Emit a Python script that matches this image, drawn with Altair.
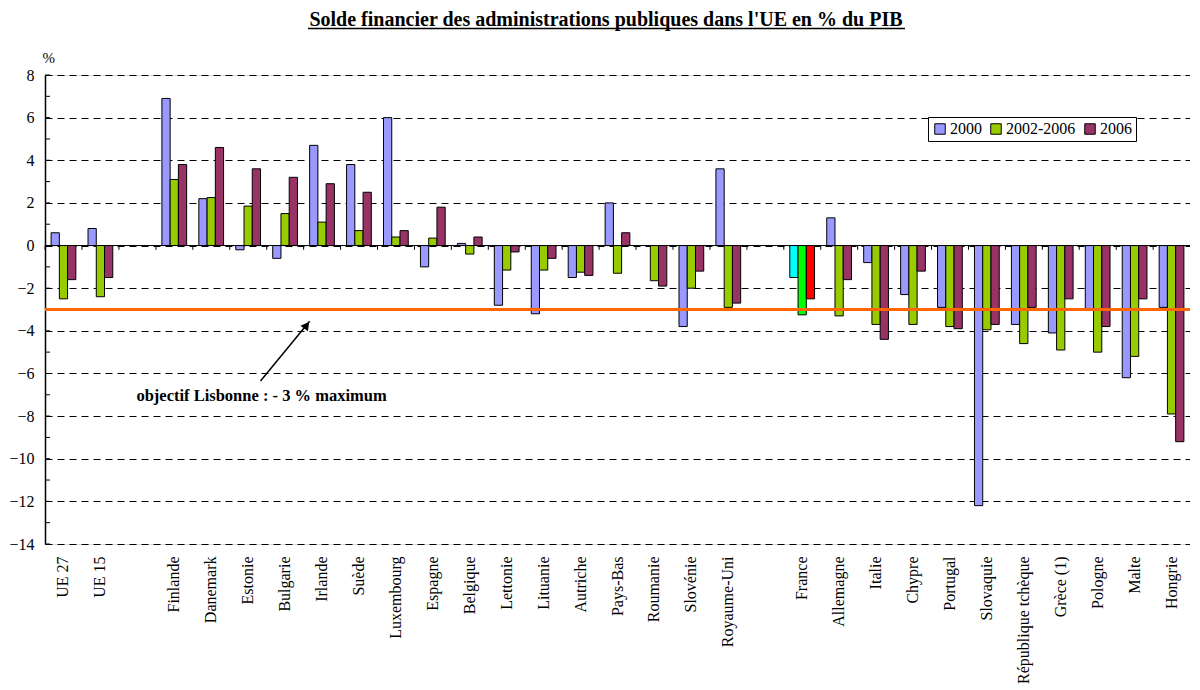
import altair as alt
import pandas as pd

pays = ["UE 27", "UE 15", "Finlande", "Danemark", "Estonie", "Bulgarie", "Irlande",
        "Suède", "Luxembourg", "Espagne", "Belgique", "Lettonie", "Lituanie", "Autriche",
        "Pays-Bas", "Roumanie", "Slovénie", "Royaume-Uni", "France", "Allemagne", "Italie",
        "Chypre", "Portugal", "Slovaquie", "République tchèque", "Grèce (1)", "Pologne",
        "Malte", "Hongrie"]
# category slots on the axis (blank slots separate groups)
slots = ["UE 27", "UE 15", " ", "Finlande", "Danemark", "Estonie", "Bulgarie", "Irlande",
         "Suède", "Luxembourg", "Espagne", "Belgique", "Lettonie", "Lituanie", "Autriche",
         "Pays-Bas", "Roumanie", "Slovénie", "Royaume-Uni", "  ", "France", "Allemagne",
         "Italie", "Chypre", "Portugal", "Slovaquie", "République tchèque", "Grèce (1)",
         "Pologne", "Malte", "Hongrie"]

v2000 = [0.6, 0.8, 6.9, 2.2, -0.2, -0.6, 4.7, 3.8, 6.0, -1.0, 0.1, -2.8, -3.2, -1.5, 2.0,
         None, -3.8, 3.6, -1.5, 1.3, -0.8, -2.3, -2.9, -12.2, -3.7, -4.1, -3.0, -6.2, -2.9]
v0206 = [-2.5, -2.4, 3.1, 2.25, 1.85, 1.5, 1.1, 0.7, 0.4, 0.35, -0.4, -1.15, -1.15, -1.25,
         -1.3, -1.65, -2.0, -2.9, -3.25, -3.3, -3.7, -3.7, -3.8, -3.95, -4.6, -4.9, -5.0,
         -5.2, -7.9]
v2006 = [-1.6, -1.5, 3.8, 4.6, 3.6, 3.2, 2.9, 2.5, 0.7, 1.8, 0.4, -0.3, -0.6, -1.4, 0.6,
         -1.9, -1.2, -2.7, -2.5, -1.6, -4.4, -1.2, -3.9, -3.7, -2.9, -2.5, -3.8, -2.5, -9.2]

series = ["2000", "2002-2006", "2006"]
series_colors = ["#9999FF", "#99CC00", "#993366"]
france_colors = ["#00FFFF", "#00FF00", "#FF0000"]

titre = "Solde financier des administrations publiques dans l'UE en % du PIB"
objectif = -3.0
y_ticks_major = list(range(-14, 9, 2))
y_ticks_minor = list(range(-14, 9))

FONT = "Liberation Serif"
W, H = 1145, 469

rows = []
for i, p in enumerate(pays):
    for s, vals in zip(series, [v2000, v0206, v2006]):
        v = vals[i]
        if v is None:
            continue
        key = ("F " + s) if p == "France" else s
        rows.append({"pays": p, "serie": s, "valeur": v, "ckey": key})
df = pd.DataFrame(rows)

xscale = alt.Scale(domain=slots, paddingInner=0.33, paddingOuter=0.165)
yscale = alt.Scale(domain=[-14, 8], nice=False, zero=False)

bars = alt.Chart(df).mark_bar(stroke="black", strokeWidth=1).encode(
    x=alt.X("pays:N", scale=xscale, sort=slots, title=None,
            axis=alt.Axis(labelAngle=-90, labelAlign="right", labelBaseline="middle",
                          labelFont=FONT, labelFontSize=16, labelColor="black",
                          labelPadding=12, domain=False, ticks=False, grid=False)),
    xOffset=alt.XOffset("serie:N", scale=alt.Scale(domain=series, paddingInner=0, paddingOuter=0)),
    y=alt.Y("valeur:Q", scale=yscale, title="%",
            axis=alt.Axis(values=y_ticks_major, grid=True, gridDash=[7, 5], gridColor="black",
                          gridWidth=1, gridOpacity=1, ticks=False, domain=True,
                          domainColor="black", domainWidth=1.5,
                          labelFont=FONT, labelFontSize=16, labelColor="black", labelPadding=11,
                          titleAngle=0, titleFont=FONT, titleFontSize=15, titleFontWeight="normal",
                          titleColor="black", titleAlign="left", titleBaseline="bottom",
                          titleX=-3, titleY=-10)),
    color=alt.Color("ckey:N",
                    scale=alt.Scale(domain=series + ["F " + s for s in series],
                                    range=series_colors + france_colors),
                    legend=alt.Legend(values=series, title=None, orient="none",
                                      legendX=883, legendY=42, direction="horizontal",
                                      columns=3, fillColor="white", strokeColor="black",
                                      padding=4, symbolType="square", symbolSize=110,
                                      symbolStrokeColor="black", symbolStrokeWidth=1,
                                      symbolOpacity=1,
                                      labelFont=FONT, labelFontSize=16, labelColor="black",
                                      labelOffset=2, columnPadding=6)),
)

# zero line with its tick marks at category boundaries
zero_df = pd.DataFrame({"z": [0.0]})
zero_line = alt.Chart(zero_df).mark_rule(color="black", strokeWidth=1).encode(
    y=alt.Y("z:Q", scale=yscale))
ticks_df = pd.DataFrame({"slot": slots, "a": [0.0] * len(slots), "b": [-0.2] * len(slots)})
zero_ticks = alt.Chart(ticks_df).mark_rule(color="black", strokeWidth=1, xOffset=-6).encode(
    x=alt.X("slot:N", scale=xscale, sort=slots, bandPosition=0, title=None),
    y=alt.Y("a:Q", scale=yscale),
    y2="b:Q",
)

# inner ticks of the value axis
minor_df = pd.DataFrame({"t": y_ticks_minor})
minor = alt.Chart(minor_df).mark_rule(color="black", strokeWidth=1).encode(
    y=alt.Y("t:Q", scale=yscale), x=alt.value(0), x2=alt.value(5))

# objective line
obj_df = pd.DataFrame({"o": [objectif]})
obj = alt.Chart(obj_df).mark_rule(color="#FF6600", strokeWidth=3).encode(
    y=alt.Y("o:Q", scale=yscale))

# annotation
ann_df = pd.DataFrame({"x_from": ["Estonie"], "y_from": [-6.35], "x_to": ["Irlande"],
                       "y_to": [-3.55], "y_text": [-7.05],
                       "label": ["objectif Lisbonne : - 3 % maximum"]})
arrow = alt.Chart(ann_df).mark_rule(color="black", strokeWidth=1.5).encode(
    x=alt.X("x_from:N", scale=xscale, sort=slots, bandPosition=1, title=None),
    x2=alt.X2("x_to:N", bandPosition=0),
    y=alt.Y("y_from:Q", scale=yscale),
    y2="y_to:Q",
)
head = alt.Chart(ann_df).mark_point(shape="triangle-up", filled=True, color="black",
                                    size=90, angle=37, opacity=1,
                                    xOffset=-3, yOffset=4).encode(
    x=alt.X("x_to:N", scale=xscale, sort=slots, bandPosition=0, title=None),
    y=alt.Y("y_to:Q", scale=yscale),
)
ann_text = alt.Chart(ann_df).mark_text(font=FONT, fontSize=16.5, fontWeight="bold",
                                       color="black", align="center",
                                       baseline="middle", xOffset=1).encode(
    x=alt.X("x_from:N", scale=xscale, sort=slots, bandPosition=1, title=None),
    y=alt.Y("y_text:Q", scale=yscale),
    text="label:N",
)

# title (drawn as text above the plot) with its underline
title_df = pd.DataFrame({"t": [titre]})
title_text = alt.Chart(title_df).mark_text(font=FONT, fontSize=20, fontWeight="bold",
                                           color="black", align="center",
                                           baseline="alphabetic").encode(
    x=alt.value(561), y=alt.value(-49), text="t:N")
underline = alt.Chart(title_df).mark_rule(color="black", strokeWidth=1.5).encode(
    x=alt.value(263), x2=alt.value(860), y=alt.value(-46.5))

chart = alt.layer(minor, bars, zero_line, zero_ticks, obj, arrow, head, ann_text,
                  title_text, underline).properties(
    width=W, height=H,
    autosize=alt.AutoSizeParams(type="none"),
    padding={"left": 37, "top": 67, "right": 0, "bottom": 140},
).configure_view(fill="#FFFFCC", stroke=None).configure(background="white")

chart.save("out.html", embed_options={"renderer": "svg", "actions": False})
